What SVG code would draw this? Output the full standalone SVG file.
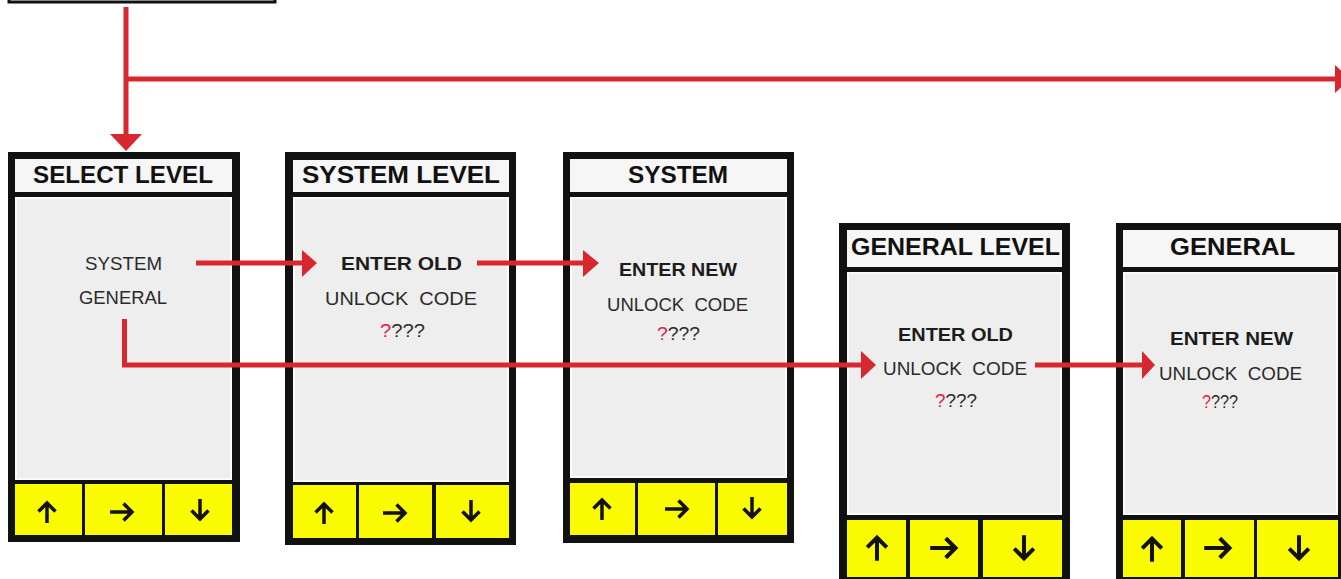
<svg xmlns="http://www.w3.org/2000/svg" width="1341" height="579" viewBox="0 0 1341 579">
<style>
.frame{fill:#111;}
.title{fill:#f6f6f6;}
.body{fill:#eeeeee;stroke:#fbfbfb;stroke-width:2;}
.btn{fill:#fbfb00;}
.tt{font-family:"Liberation Sans",Arial,sans-serif;font-weight:bold;font-size:24px;fill:#111;text-anchor:middle;}
.tb{font-family:"Liberation Sans",Arial,sans-serif;font-weight:bold;font-size:19px;fill:#1c1c1c;text-anchor:middle;}
.tn{font-family:"Liberation Sans",Arial,sans-serif;font-size:19px;fill:#2a2a2a;text-anchor:middle;}
.tu{white-space:pre;}
.q{fill:#e8174b;}
.ico{fill:none;stroke:#111;stroke-width:3.5;stroke-linejoin:miter;}
.cn{fill:none;stroke:#d7282f;stroke-width:5;}
.ah{fill:#d7282f;}
</style>
<defs>
<path id="a-up" class="ico" d="M0 11 V-9 M-8.5 -0.5 L0 -9 L8.5 -0.5"/>
<path id="a-right" class="ico" d="M-12 0 H10 M1.5 -8.5 L10 0 L1.5 8.5"/>
<path id="a-down" class="ico" d="M0 -11 V9 M-8.5 0.5 L0 9 L8.5 0.5"/>
</defs>

<g id="top-box">
<rect x="9" y="-30" width="266" height="32" fill="#fff" stroke="#111" stroke-width="3"/>
</g>

<g id="p1-select-level">
<rect class="frame" x="8" y="152" width="232" height="390"/>
<rect class="title" x="15" y="159" width="217" height="33"/>
<rect class="body" x="16" y="198" width="215" height="281"/>
<rect class="btn" x="15" y="484" width="67" height="51"/>
<rect class="btn" x="85" y="484" width="77" height="51"/>
<rect class="btn" x="165" y="484" width="67" height="51"/>
<text class="tt" x="123" y="183" textLength="180" lengthAdjust="spacingAndGlyphs">SELECT LEVEL</text>
<text class="tn" x="123.5" y="270" textLength="77" lengthAdjust="spacingAndGlyphs">SYSTEM</text>
<text class="tn" x="123" y="304" textLength="88" lengthAdjust="spacingAndGlyphs">GENERAL</text>
<use href="#a-up" transform="translate(47,512)"/>
<use href="#a-right" transform="translate(122,512)"/>
<use href="#a-down" transform="translate(200,510)"/>
</g>

<g id="p2-system-level">
<rect class="frame" x="285" y="152" width="231" height="393"/>
<rect class="title" x="293" y="160" width="216" height="32"/>
<rect class="body" x="294" y="198" width="214" height="283"/>
<rect class="btn" x="293" y="485" width="63" height="53"/>
<rect class="btn" x="359" y="485" width="73" height="53"/>
<rect class="btn" x="436" y="485" width="73" height="53"/>
<text class="tt" x="401" y="183" textLength="198" lengthAdjust="spacingAndGlyphs">SYSTEM LEVEL</text>
<text class="tb" x="401.5" y="270" textLength="121" lengthAdjust="spacingAndGlyphs">ENTER OLD</text>
<text class="tn tu" x="401" y="305" textLength="152" lengthAdjust="spacingAndGlyphs" xml:space="preserve">UNLOCK  CODE</text>
<text class="tn" x="402.5" y="337" textLength="45" lengthAdjust="spacingAndGlyphs"><tspan class="q">?</tspan>???</text>
<use href="#a-up" transform="translate(324,513)"/>
<use href="#a-right" transform="translate(395,513)"/>
<use href="#a-down" transform="translate(471,511)"/>
</g>

<g id="p3-system">
<rect class="frame" x="563" y="152" width="231" height="391"/>
<rect class="title" x="570" y="159" width="217" height="33"/>
<rect class="body" x="571" y="198" width="215" height="279"/>
<rect class="btn" x="570" y="483" width="65" height="52"/>
<rect class="btn" x="638" y="483" width="77" height="52"/>
<rect class="btn" x="718" y="483" width="69" height="52"/>
<text class="tt" x="678" y="183" textLength="100" lengthAdjust="spacingAndGlyphs">SYSTEM</text>
<text class="tb" x="678" y="276" textLength="118" lengthAdjust="spacingAndGlyphs">ENTER NEW</text>
<text class="tn tu" x="677.5" y="311" textLength="141" lengthAdjust="spacingAndGlyphs" xml:space="preserve">UNLOCK  CODE</text>
<text class="tn" x="678.5" y="340" textLength="43" lengthAdjust="spacingAndGlyphs"><tspan class="q">?</tspan>???</text>
<use href="#a-up" transform="translate(602,509)"/>
<use href="#a-right" transform="translate(677,509)"/>
<use href="#a-down" transform="translate(752,508)"/>
</g>

<g id="p4-general-level">
<rect class="frame" x="839" y="223" width="231" height="370"/>
<rect class="title" x="847" y="230" width="215" height="37"/>
<rect class="body" x="848" y="273" width="213" height="241"/>
<rect class="btn" x="847" y="520" width="59" height="57"/>
<rect class="btn" x="910" y="520" width="68" height="57"/>
<rect class="btn" x="983" y="520" width="79" height="57"/>
<text class="tt" x="955.5" y="255" textLength="209" lengthAdjust="spacingAndGlyphs">GENERAL LEVEL</text>
<text class="tb" x="955.5" y="341" textLength="115" lengthAdjust="spacingAndGlyphs">ENTER OLD</text>
<text class="tn tu" x="955" y="375" textLength="144" lengthAdjust="spacingAndGlyphs" xml:space="preserve">UNLOCK  CODE</text>
<text class="tn" x="956" y="407" textLength="42" lengthAdjust="spacingAndGlyphs"><tspan class="q">?</tspan>???</text>
<use href="#a-up" transform="translate(877,548) scale(1.15)"/>
<use href="#a-right" transform="translate(944,548) scale(1.15)"/>
<use href="#a-down" transform="translate(1024,548) scale(1.15)"/>
</g>

<g id="p5-general">
<rect class="frame" x="1116" y="223" width="232" height="370"/>
<rect class="title" x="1123" y="230" width="215" height="37"/>
<rect class="body" x="1124" y="273" width="213" height="241"/>
<rect class="btn" x="1123" y="520" width="58" height="57"/>
<rect class="btn" x="1185" y="520" width="69" height="57"/>
<rect class="btn" x="1257" y="520" width="81" height="57"/>
<text class="tt" x="1232.5" y="255" textLength="125" lengthAdjust="spacingAndGlyphs">GENERAL</text>
<text class="tb" x="1231.5" y="345" textLength="123" lengthAdjust="spacingAndGlyphs">ENTER NEW</text>
<text class="tn tu" x="1230.5" y="380" textLength="143" lengthAdjust="spacingAndGlyphs" xml:space="preserve">UNLOCK  CODE</text>
<text class="tn" x="1220" y="408" textLength="36" lengthAdjust="spacingAndGlyphs"><tspan class="q">?</tspan>???</text>
<use href="#a-up" transform="translate(1152,549) scale(1.15)"/>
<use href="#a-right" transform="translate(1218,548) scale(1.15)"/>
<use href="#a-down" transform="translate(1299,548) scale(1.15)"/>
</g>

<g id="connectors">
<path class="cn" d="M126 7 V136"/>
<polygon class="ah" points="110,134 142,134 126,151"/>
<path class="cn" d="M126 79 H1337"/>
<polygon class="ah" points="1335,65 1335,93 1350,79"/>
<path class="cn" d="M196 263 H304"/>
<polygon class="ah" points="302,250 302,277 317,263"/>
<path class="cn" d="M477 263 H585"/>
<polygon class="ah" points="583,250 583,277 599,263"/>
<path class="cn" d="M124.5 319 V365 H863"/>
<polygon class="ah" points="861,351 861,379 876,365"/>
<path class="cn" d="M1035 365 H1144"/>
<polygon class="ah" points="1142,351 1142,379 1155,365"/>
</g>
</svg>
